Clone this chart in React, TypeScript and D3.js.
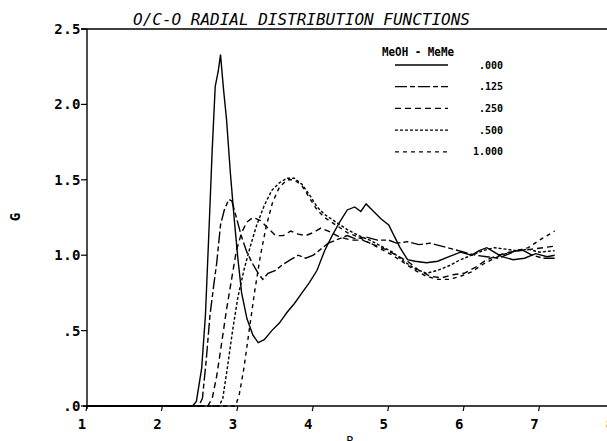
import * as d3 from 'd3';

// O/C-O radial distribution functions, one list of [R, G] pairs per mole fraction
const g000: [number, number][] = [
  [1, 0], [2.4, 0], [2.45, 0.03], [2.52, 0.25], [2.57, 0.6], [2.62, 1.2], [2.66, 1.7], [2.7, 2.12],
  [2.74, 2.22], [2.77, 2.33], [2.81, 2.1], [2.85, 1.9], [2.9, 1.55], [2.95, 1.25], [3.0, 0.98],
  [3.05, 0.75], [3.12, 0.58], [3.2, 0.47], [3.27, 0.42], [3.35, 0.44], [3.45, 0.5], [3.55, 0.55],
  [3.65, 0.62], [3.75, 0.68], [3.85, 0.75], [3.95, 0.82], [4.05, 0.9], [4.15, 1.03], [4.25, 1.13],
  [4.35, 1.22], [4.45, 1.3], [4.55, 1.32], [4.63, 1.29], [4.7, 1.34], [4.8, 1.29], [4.9, 1.24],
  [5.0, 1.2], [5.08, 1.12], [5.15, 1.05], [5.25, 0.97], [5.35, 0.96], [5.5, 0.95], [5.65, 0.96],
  [5.8, 0.99], [5.95, 1.02], [6.1, 1.0], [6.2, 1.03], [6.3, 1.05], [6.4, 1.02], [6.5, 0.99],
  [6.65, 0.97], [6.8, 0.98], [6.95, 1.01], [7.1, 0.99], [7.2, 1.0],
];
const g125: [number, number][] = [
  [1, 0], [2.48, 0], [2.53, 0.05], [2.58, 0.3], [2.63, 0.6], [2.68, 0.8], [2.72, 0.95], [2.77, 1.2],
  [2.82, 1.3], [2.88, 1.37], [2.92, 1.36], [2.98, 1.25], [3.05, 1.12], [3.12, 1.02], [3.2, 0.94],
  [3.27, 0.88], [3.33, 0.84], [3.4, 0.88], [3.5, 0.9], [3.6, 0.94], [3.7, 0.97], [3.8, 1.0],
  [3.9, 0.98], [4.0, 1.0], [4.1, 1.04], [4.2, 1.08], [4.35, 1.11], [4.45, 1.13], [4.55, 1.11],
  [4.7, 1.12], [4.85, 1.1], [5.0, 1.1], [5.1, 1.08], [5.25, 1.09], [5.4, 1.07], [5.55, 1.08],
  [5.7, 1.06], [5.85, 1.04], [6.0, 1.02], [6.15, 1.0], [6.3, 0.99], [6.45, 0.98], [6.6, 1.01],
  [6.75, 1.04], [6.9, 1.0], [7.05, 0.98], [7.2, 0.98],
];
const g250: [number, number][] = [
  [1, 0], [2.6, 0], [2.66, 0.05], [2.72, 0.2], [2.78, 0.4], [2.85, 0.64], [2.92, 0.85], [2.98, 1.03],
  [3.05, 1.15], [3.12, 1.22], [3.2, 1.25], [3.3, 1.23], [3.4, 1.18], [3.5, 1.13], [3.6, 1.13],
  [3.7, 1.16], [3.8, 1.14], [3.9, 1.13], [4.0, 1.15], [4.1, 1.18], [4.2, 1.16], [4.35, 1.12],
  [4.5, 1.1], [4.65, 1.1], [4.8, 1.07], [4.95, 1.04], [5.1, 1.0], [5.25, 0.96], [5.4, 0.9],
  [5.55, 0.86], [5.7, 0.85], [5.85, 0.87], [6.0, 0.88], [6.15, 0.92], [6.3, 0.97], [6.45, 1.0],
  [6.6, 1.02], [6.75, 1.03], [6.9, 1.04], [7.05, 1.05], [7.2, 1.06],
];
const g500: [number, number][] = [
  [1, 0], [2.75, 0], [2.8, 0.05], [2.86, 0.25], [2.93, 0.5], [3.0, 0.72], [3.08, 0.9], [3.16, 1.05],
  [3.25, 1.2], [3.35, 1.33], [3.45, 1.43], [3.55, 1.48], [3.65, 1.51], [3.75, 1.51], [3.85, 1.47],
  [3.95, 1.4], [4.05, 1.32], [4.15, 1.27], [4.3, 1.22], [4.45, 1.17], [4.6, 1.13], [4.75, 1.1],
  [4.9, 1.06], [5.05, 1.02], [5.2, 0.96], [5.35, 0.91], [5.5, 0.88], [5.65, 0.9], [5.8, 0.93],
  [5.95, 0.97], [6.1, 1.0], [6.25, 1.03], [6.4, 1.05], [6.55, 1.04], [6.7, 1.03], [6.85, 1.04],
  [7.0, 1.02], [7.2, 1.03],
];
const g1000: [number, number][] = [
  [1, 0], [2.97, 0], [3.02, 0.08], [3.08, 0.25], [3.15, 0.5], [3.22, 0.75], [3.3, 1.0], [3.38, 1.2],
  [3.46, 1.35], [3.55, 1.45], [3.65, 1.5], [3.75, 1.5], [3.85, 1.46], [3.95, 1.38], [4.05, 1.3],
  [4.15, 1.25], [4.3, 1.2], [4.45, 1.15], [4.6, 1.12], [4.75, 1.08], [4.9, 1.04], [5.05, 1.0],
  [5.2, 0.95], [5.35, 0.9], [5.5, 0.86], [5.65, 0.84], [5.8, 0.84], [5.95, 0.86], [6.1, 0.89],
  [6.25, 0.94], [6.4, 0.98], [6.55, 1.01], [6.7, 1.03], [6.85, 1.05], [7.0, 1.1], [7.1, 1.13],
  [7.2, 1.16],
];

const labels = ['.000', '.125', '.250', '.500', '1.000'];
const series = [g000, g125, g250, g500, g1000];
const dashes = ['none', '12,3,5,3', '6,4', '3,2', '4,4'];

const xTicks = [1, 2, 3, 4, 5, 6, 7, 8];
const yTicks = [0, 0.5, 1, 1.5, 2, 2.5];
const yTickLabels = ['.0', '.5', '1.0', '1.5', '2.0', '2.5'];

const W = 607;
const H = 441;
const mono = '"DejaVu Sans Mono", monospace';

export default function App() {
  const x = d3.scaleLinear().domain([1, 8]).range([87, 615]);
  const y = d3.scaleLinear().domain([0, 2.5]).range([406, 29]);
  const line = d3.line<[number, number]>().x(d => x(d[0])).y(d => y(d[1]));

  return (
    <svg width={W} height={H} style={{ position: 'absolute', left: 0, top: 0, background: '#fff' }}>
      <g fill="none" stroke="#000" strokeWidth={1.4}>
        {series.map((s, i) => (
          <path key={i} d={line(s) || ''} strokeDasharray={dashes[i]} />
        ))}
      </g>
      {/* frame */}
      <line x1={x(1)} x2={x(1)} y1={y(0) + 3} y2={y(2.5)} stroke="#000" strokeWidth={1.4} />
      <line x1={x(1) - 4} x2={W} y1={y(0)} y2={y(0)} stroke="#000" strokeWidth={1.4} />
      <line x1={x(1) - 6} x2={W} y1={y(2.5)} y2={y(2.5)} stroke="#000" strokeWidth={1.3} />
      {yTicks.map((t, i) => (
        <g key={t}>
          <line x1={x(1) - 6} x2={x(1)} y1={y(t)} y2={y(t)} stroke="#000" strokeWidth={1.2} />
          <text x={x(1) - 6} y={y(t) + 5} textAnchor="end" fontFamily={mono} fontSize={14}
            fontWeight={600} letterSpacing={0.5} fill="#000">{yTickLabels[i]}</text>
        </g>
      ))}
      {xTicks.map(t => (
        <g key={t}>
          <line x1={x(t)} x2={x(t) - 1} y1={y(0)} y2={y(0) + 5} stroke="#000" strokeWidth={1.2} />
          <text x={x(t) - 5} y={y(0) + 23} textAnchor="middle" fontFamily={mono} fontSize={14}
            fontWeight={600} fill="#000">{t}</text>
        </g>
      ))}
      <text x={350} y={445} textAnchor="middle" fontFamily={mono} fontSize={12} fill="#000">R</text>
      <text transform="translate(20,217) rotate(-90)" textAnchor="middle" fontFamily={mono}
        fontSize={14} fontWeight={600} fill="#000">G</text>
      <text x={133} y={25} fontFamily={mono} fontStyle="italic" fontSize={16} fill="#000"
        textLength={337} lengthAdjust="spacingAndGlyphs">O/C-O RADIAL DISTRIBUTION FUNCTIONS</text>
      {/* legend */}
      <text x={382} y={56} fontFamily={mono} fontSize={12} fontWeight={600} fill="#000" textLength={72}
        lengthAdjust="spacingAndGlyphs">MeOH - MeMe</text>
      {labels.map((l, i) => (
        <g key={l}>
          <line x1={395} x2={448} y1={65 + i * 21.7} y2={65 + i * 21.7} stroke="#000"
            strokeWidth={1.3} strokeDasharray={dashes[i]} />
          <text x={503} y={65 + i * 21.7 + 3.5} textAnchor="end" fontFamily={mono} fontSize={10}
            fontWeight={600} fill="#000">{l}</text>
        </g>
      ))}
    </svg>
  );
}
